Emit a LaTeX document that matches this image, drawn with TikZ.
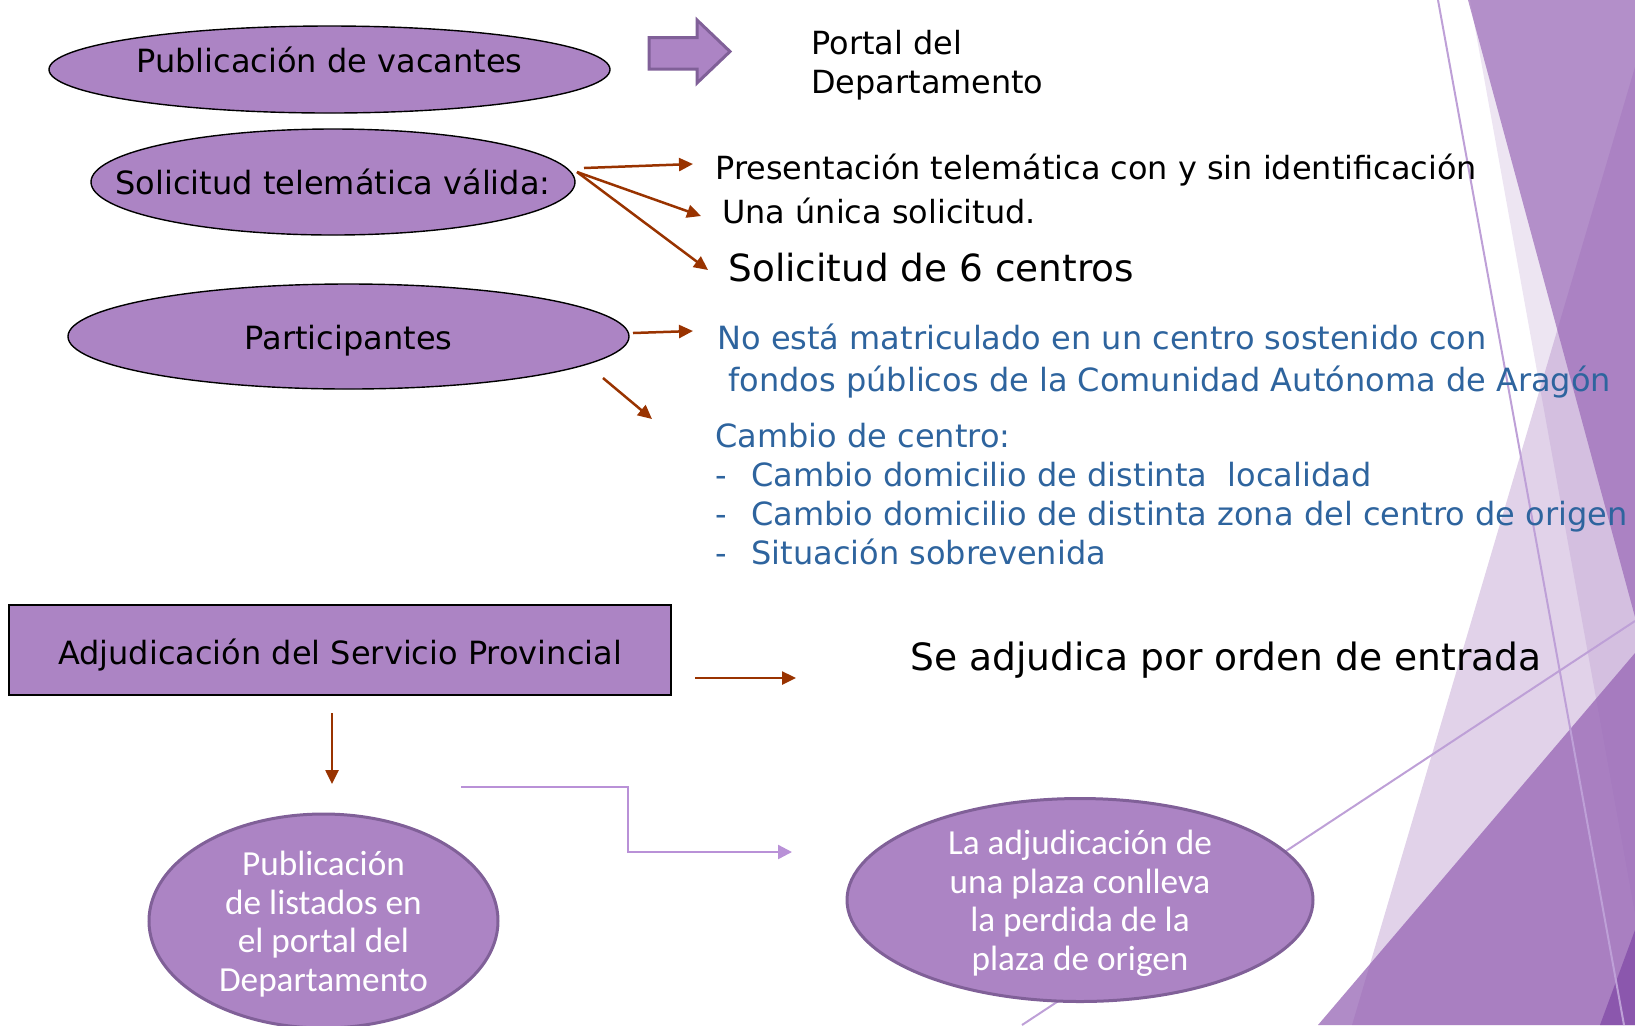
\documentclass[tikz,border=0pt]{standalone}
\usepackage{fontspec}
\setmainfont{DejaVu Sans}
\newfontfamily\letrablanca{Carlito}
\usepackage{tikz}
\usetikzlibrary{arrows.meta, positioning, shapes.geometric}
\definecolor{Morado}{RGB}{172,132,196}
\definecolor{MoradoOscuro}{RGB}{128,96,152}
\definecolor{MoradoFondo}{RGB}{150,100,180}
\definecolor{MoradoLinea}{RGB}{190,160,215}
\definecolor{MoradoConector}{RGB}{185,145,215}
\definecolor{Granate}{RGB}{153,51,0}
\definecolor{AzulTexto}{RGB}{46,100,158}

\begin{document}
\begin{tikzpicture}[
  x=0.5pt, y=-0.5pt,
  elipse/.style={
    ellipse, draw=black, line width=0.7pt,
    fill=Morado, inner sep=0pt,
    font=\fontsize{16}{19}\selectfont
  },
  elipseblanca/.style={
    ellipse, draw=MoradoOscuro, line width=1.5pt,
    fill=Morado, inner sep=0pt
  },
  textoblanco/.style={
    text=white, align=center, inner sep=0pt, yshift=-1.6pt,
    font=\letrablanca\fontsize{17.6}{19.3}\selectfont
  },
  caja/.style={
    draw=black, line width=0.8pt, fill=Morado,
    inner sep=0pt, font=\fontsize{16}{19}\selectfont
  },
  texto/.style={
    anchor=west, inner sep=0pt, align=left,
    font=\fontsize{15.95}{19.4}\selectfont
  },
  flecha/.style={-{Triangle[length=7pt, width=6.5pt]}, Granate, line width=1.25pt},
  conector/.style={-{Triangle[length=7pt, width=7pt]}, MoradoConector, line width=1.2pt},
  faceta/.style={fill=MoradoFondo, draw=none}
]
\useasboundingbox (0,0) rectangle (1635,1025);

% fondo decorativo
\begin{scope}
  \clip (0,0) rectangle (1635,1025);
  \fill[faceta, opacity=0.67] (1468,0) -- (1635,0) -- (1635,617) -- cycle;
  \fill[faceta, opacity=0.17] (1470,0) -- (1700,0) -- (1700,1025) -- (1655,1025) -- cycle;
  \fill[faceta, opacity=0.29] (1635,67) -- (1352,1025) -- (1635,1025) -- cycle;
  \fill[faceta, opacity=0.75] (1635,653) -- (1318,1025) -- (1635,1025) -- cycle;
  \fill[fill={rgb,255:red,120;green,60;blue,160}, opacity=0.6] (1635,930) -- (1600,1025) -- (1635,1025) -- cycle;
  \draw[MoradoLinea, line width=1pt] (1438,0) -- (1624,1025);
  \draw[MoradoLinea, line width=1pt] (1022,1025) -- (1635,621);
\end{scope}

% nodos
\node[elipse, minimum width=280.5pt, minimum height=43.5pt] (vacantes) at (329.5,69.5)
  {\makebox[0pt]{\raisebox{4.7pt}[\height][\depth]{Publicación de vacantes}}};
\node[elipse, minimum width=242pt, minimum height=53pt] (solicitud) at (333,182)
  {\makebox[0pt]{Solicitud telemática válida:}};
\node[elipse, minimum width=280.5pt, minimum height=52.5pt] (participantes) at (348.5,336.5)
  {\makebox[0pt]{\raisebox{-2.1pt}[\height][\depth]{Participantes}}};
\node[caja, minimum width=331pt, minimum height=45pt] (adjudicacion) at (340,650)
  {\raisebox{-2.6pt}[\height][\depth]{Adjudicación del Servicio Provincial}};
\node[elipseblanca, minimum width=174.5pt, minimum height=107pt,
  label={[textoblanco, name=listadostexto]center:{Publicación\\de listados en\\el portal del\\Departamento}}]
  (listados) at (323.5,921) {};
\node[elipseblanca, minimum width=233pt, minimum height=101.5pt,
  label={[textoblanco, name=perdidatexto]center:{La adjudicación de\\una plaza conlleva\\la perdida de la\\plaza de origen}}]
  (perdida) at (1080,900) {};

% flecha gruesa
\draw[fill=Morado, draw=MoradoOscuro, line width=1.5pt]
  (649,37.5) -- (697,37.5) -- (697,20) -- (730,51.5) -- (697,83) -- (697,69) -- (649,69) -- cycle;

% textos
\node[texto] (portal) at (811,65.5) {Portal del\\Departamento};
\node[texto] (telematica) at (715,170) {Presentación telemática con y sin identificación};
\node[texto] (unica) at (722,210.5) {Una única solicitud.};
\node[texto, font=\fontsize{18.7}{22}\selectfont] (centros) at (728,268) {Solicitud de 6 centros};
\node[texto, text=AzulTexto, font=\fontsize{16}{20.9}\selectfont] (matriculado) at (717,361)
  {No está matriculado en un centro sostenido con\\\hspace*{5.5pt}fondos públicos de la Comunidad Autónoma de Aragón};
\node[texto, text=AzulTexto, font=\fontsize{16}{19.4}\selectfont] (cambio) at (715,494)
  {Cambio de centro:\\
   \makebox[18pt][l]{-}Cambio domicilio de distinta\ \ localidad\\
   \makebox[18pt][l]{-}Cambio domicilio de distinta zona del centro de origen\\
   \makebox[18pt][l]{-}Situación sobrevenida};
\node[texto, font=\fontsize{18.8}{22}\selectfont] (entrada) at (910,660) {Se adjudica por orden de entrada};

% extremos de los conectores
\coordinate (s1) at (584,168);
\coordinate (s2) at (577,172);
\coordinate (e1) at (693,164);
\coordinate (e2) at (701,216);
\coordinate (e3) at (708,270);
\coordinate (p1) at (633,333);
\coordinate (p2) at (603,378);
\coordinate (e4) at (693,331);
\coordinate (e5) at (652,419);
\coordinate (a1) at (695,678);
\coordinate (e6) at (796,678);
\coordinate (a2) at (332,713);
\coordinate (e7) at (332,784);
\coordinate (c1) at (461,787);
\coordinate (c2) at (628,787);
\coordinate (c3) at (628,852);
\coordinate (e8) at (792,852);

\draw[flecha] (s1) -- (e1);
\draw[flecha] (s2) -- (e2);
\draw[flecha] (s2) -- (e3);
\draw[flecha] (p1) -- (e4);
\draw[flecha] (p2) -- (e5);
\draw[flecha] (a1) -- (e6);
\draw[flecha] (a2) -- (e7);
\draw[conector] (c1) -- (c2) -- (c3) -- (e8);

\end{tikzpicture}
\end{document}
